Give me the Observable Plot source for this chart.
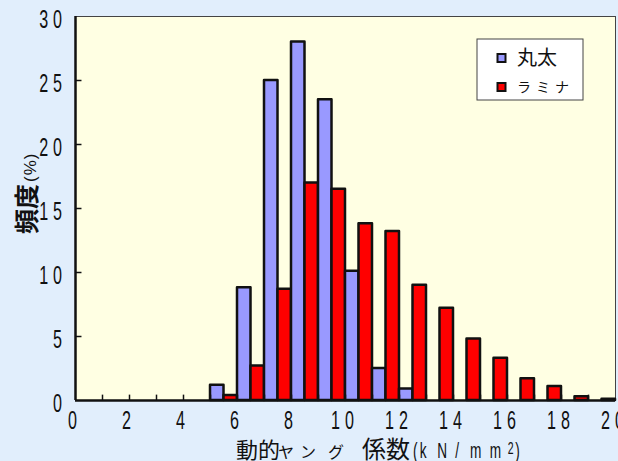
<!DOCTYPE html>
<html>
<head>
<meta charset="utf-8">
<script src="https://cdn.jsdelivr.net/npm/d3@7"></script>
<script src="https://cdn.jsdelivr.net/npm/@observablehq/plot@0.6"></script>
<style>
  html, body { margin: 0; padding: 0; background: #E1EEFC; }
  #chart svg { display: block; }
</style>
</head>
<body>
<div id="chart"></div>
<script>
// Bins: category k covers k .. k+1 (kN/mm2)
const bins = d3.range(0, 20);
const seriesNames = ["丸太", "ラミナ"];
const seriesColors = ["#9999FF", "#FF0000"];
// 丸太 (log) frequency %, bins 0..19
const maruta = [0, 0, 0, 0, 0, 1.2, 8.8, 25.0, 28.0, 23.5, 10.1, 2.5, 0.9, 0, 0, 0, 0, 0, 0, 0];
// ラミナ (lamina) frequency %, bins 0..19
const lamina = [0, 0, 0, 0, 0, 0.4, 2.7, 8.7, 17.0, 16.5, 13.8, 13.2, 9.0, 7.2, 4.8, 3.3, 1.7, 1.1, 0.3, 0.1];
const xTicks = [0, 2, 4, 6, 8, 10, 12, 14, 16, 18, 20];
const yTicks = [0, 5, 10, 15, 20, 25, 30];

const data = [];
bins.forEach((b, i) => {
  data.push({series: seriesNames[0], x1: b, x2: b + 0.5, v: maruta[i]});
  data.push({series: seriesNames[1], x1: b + 0.5, x2: b + 1, v: lamina[i]});
});

const numFont = "'Liberation Sans', Arial, sans-serif";
const cjkFont = "'Noto Sans CJK JP', sans-serif";
const SX = 0.62; // horizontal squeeze of the narrow digits

const svg = Plot.plot({
  width: 618,
  height: 461,
  marginLeft: 75,
  marginRight: 3,
  marginTop: 16,
  marginBottom: 61,
  style: {background: "#E1EEFC", fontFamily: numFont, overflow: "visible"},
  x: {domain: [0, 20], axis: null},
  y: {domain: [0, 30], axis: null},
  color: {domain: seriesNames, range: seriesColors},
  marks: [
    Plot.frame({fill: "#FFFFE3", stroke: "#444", strokeWidth: 1}),
    Plot.rectY(data.filter(d => d.v > 0), {x1: "x1", x2: "x2", y: "v", fill: "series", stroke: "#111", strokeWidth: 2.5, strokeLinejoin: "round"}),
    Plot.ruleX(d3.range(1, 20), {y1: 0, y2: 0.42, stroke: "#111", strokeWidth: 1.5}),
    Plot.ruleY(yTicks.slice(1, -1), {x1: 0, x2: 0.24, stroke: "#111", strokeWidth: 1.5}),
    Plot.ruleY([0], {stroke: "#111", strokeWidth: 2.5}),
    Plot.ruleX([0], {stroke: "#111", strokeWidth: 2.5})
  ]
});

const s = d3.select(svg);
const xs = svg.scale("x"), ys = svg.scale("y");

// Tick labels: tall, narrow, spaced digits (positions from the plot's scales)
const lbl = s.append("g").attr("fill", "#111").attr("font-family", numFont).attr("font-size", 26).attr("letter-spacing", "8px");
xTicks.forEach(v => {
  lbl.append("text").attr("transform", `translate(${xs.apply(v)},429) scale(${SX},1)`).attr("text-anchor", "middle").text(String(v));
});
yTicks.forEach(v => {
  lbl.append("text").attr("transform", `translate(67,${ys.apply(v) + 12}) scale(${SX},1)`).attr("text-anchor", "end").text(String(v));
});

// X axis title
const xt = s.append("text").attr("y", 458).attr("fill", "#111").attr("font-family", cjkFont).attr("text-anchor", "start");
xt.append("tspan").attr("x", 236).attr("font-size", 22).text("動的");
xt.append("tspan").attr("x", 278).attr("font-size", 16).text("ヤ");
xt.append("tspan").attr("x", 300).attr("font-size", 16).text("ン");
xt.append("tspan").attr("x", 328).attr("font-size", 16).text("グ");
xt.append("tspan").attr("x", 362).attr("font-size", 24).text("係数");
const ut = s.append("text").attr("transform", `translate(413,458) scale(${SX},1)`).attr("fill", "#111")
  .attr("font-family", numFont).attr("font-size", 22).attr("text-anchor", "start");
[["(", 0], ["k", 11], ["N", 39], ["/", 68], ["m", 92], ["m", 124]].forEach(([c, x]) => ut.append("tspan").attr("x", x).attr("y", 0).text(c));
ut.append("tspan").attr("x", 153).attr("y", -4).attr("font-size", 17).text("2");
ut.append("tspan").attr("x", 165).attr("y", 0).text(")");

// Y axis title
const yt = s.append("text").attr("transform", "translate(36,234) rotate(-90)").attr("fill", "#111").attr("font-family", cjkFont).attr("text-anchor", "start");
yt.append("tspan").attr("font-size", 25).attr("font-weight", "bold").text("頻度");
yt.append("tspan").attr("font-size", 17).attr("font-family", numFont).attr("letter-spacing", "1px").attr("dx", 2).text("(%)");

// Legend
const lg = s.append("g");
lg.append("rect").attr("x", 477).attr("y", 39).attr("width", 106).attr("height", 61).attr("fill", "#FFFFFF").attr("stroke", "#444").attr("stroke-width", 1);
seriesNames.forEach((name, i) => {
  const cy = 58 + i * 29;
  lg.append("rect").attr("x", 497.5).attr("y", cy - 4).attr("width", 8).attr("height", 8).attr("fill", seriesColors[i]).attr("stroke", "#111").attr("stroke-width", 2);
  lg.append("text").attr("x", 517).attr("y", cy).attr("dy", "0.36em").attr("fill", "#111").attr("font-family", cjkFont).attr("text-anchor", "start")
    .attr("font-size", i === 0 ? 20 : 14).attr("letter-spacing", i === 0 ? "0px" : "5px").text(name);
});

document.getElementById("chart").appendChild(svg);
</script>
</body>
</html>
